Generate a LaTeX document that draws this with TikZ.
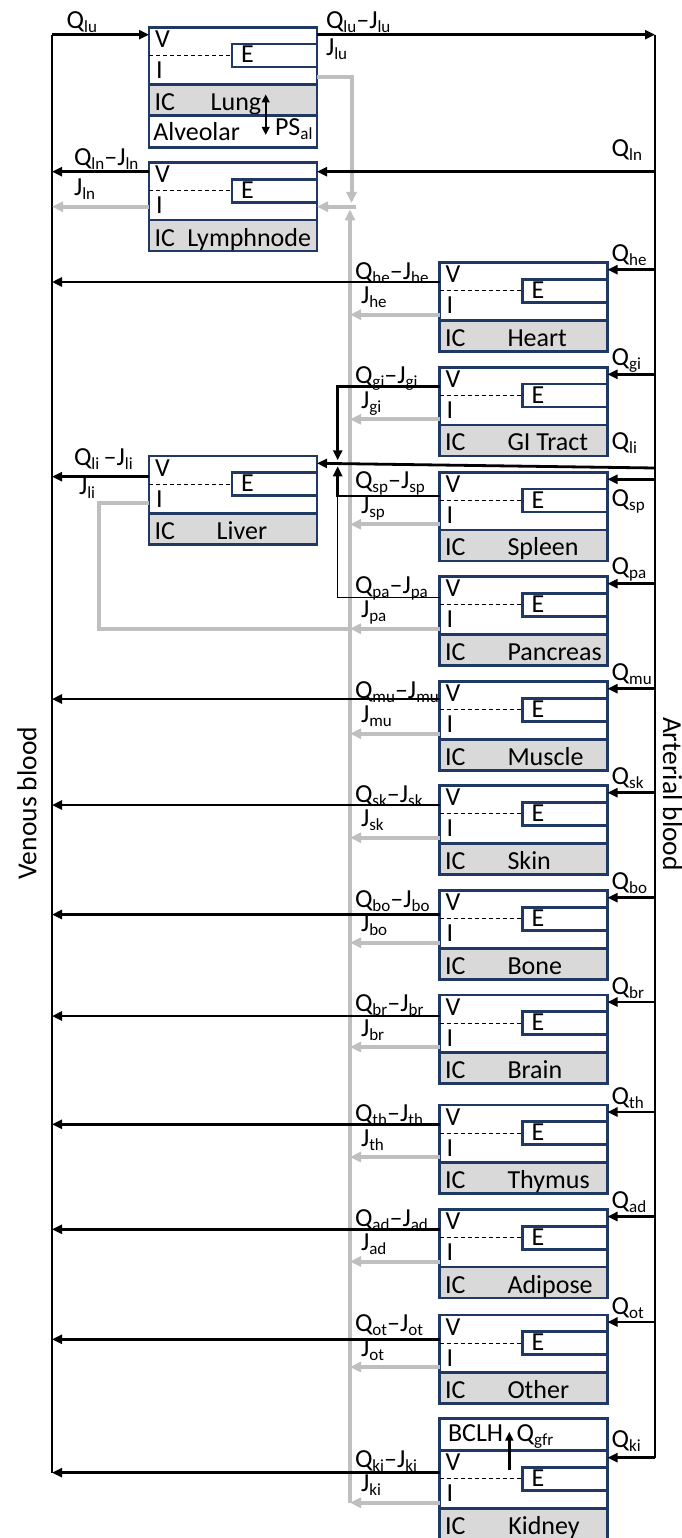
\documentclass[tikz,border=0pt]{standalone}
\usepackage{fontspec}
\setmainfont{Carlito}
\usetikzlibrary{arrows.meta,calc}
\definecolor{boxnavy}{RGB}{31,56,100}
\definecolor{icfill}{RGB}{217,217,217}
\definecolor{lymphgray}{RGB}{191,191,191}
% subscript used in the flow labels
\newcommand\sbs[1]{\raisebox{-4pt}{\fontsize{17}{17}\selectfont #1}}
% one compartment block: #1 id, #2 left x, #3 top y, #4 organ name,
% #5 name offset, #6 vascular outflow offset
\newcommand\organ[6]{%
  \node[mainrow] (#1) at (#2,#3) {};
  \node[icrow] (#1-ic) at (#1.south west) {};
  \node[ebox] (#1-e) at ($(#1.north east)+(0,16.7)$) {};
  \draw[sepline] (#1.west |- #1-e.west) -- (#1-e.west);
  \node[txt] (#1-vl) at ($(#1.north west)+(6,20)$) {V};
  \node[txt] (#1-il) at ($(#1.north west)+(7,51)$) {I};
  \node[txt] (#1-el) at ($(#1-e.north west)+(9,19)$) {E};
  \node[txt] (#1-icl) at ($(#1-ic.north west)+(5.5,26)$) {IC};
  \node[txt] (#1-nl) at ($(#1-ic.north west)+(#5,26)$) {#4};
  \coordinate (#1-out) at ($(#1.north west)+(0,#6)$);
  \coordinate (#1-jo) at ($(#1.north west)+(0,52)$);
  \coordinate (#1-in) at ($(#1.north east)+(0,7)$);
}
% flow labels of a peripheral organ: #1 id, #2 subscript, #3 shift of the Q label
\newcommand\qjlabels[3]{%
  \node[txt] (#1-qjl) at ($(qjx |- #1.north)+(0,16.5)$) {Q\sbs{#2}\textendash J\sbs{#2}};
  \node[txt] (#1-jl) at ($(jx |- #1.north)+(0,41)$) {J\sbs{#2}};
  \node[txt] (#1-ql) at ($(qx |- #1-in)+(0,#3)$) {Q\sbs{#2}};
}
% arterial inflow and lymph outflow of an organ
\newcommand\artin[1]{\draw[flow] (#1-in -| atop) -- (#1-in);}
\newcommand\lymout[1]{\draw[jflow] (#1-jo) -- (#1-jo -| gtop);}
\newcommand\venout[1]{\draw[flow] (#1-out) -- (#1-out -| vtop);}

\begin{document}
\begin{tikzpicture}[x=1pt,y=-1pt,
  every node/.style={inner sep=0pt,outer sep=0pt,font=\fontsize{26}{30}\selectfont},
  compbox/.style={draw=boxnavy,line width=2.6pt,minimum width=168pt,anchor=north west},
  mainrow/.style={compbox,minimum height=57.5pt,fill=white},
  icrow/.style={compbox,minimum height=31pt,fill=icfill},
  extrarow/.style={compbox,minimum height=31.5pt,fill=white},
  ebox/.style={draw=boxnavy,line width=2.6pt,minimum width=85pt,minimum height=23pt,anchor=north east,fill=white},
  sepline/.style={line width=1pt,dash pattern=on 4pt off 3pt},
  txt/.style={anchor=base west},
  vessel/.style={line width=1.8pt},
  flow/.style={line width=2.8pt,-{Triangle[length=10pt,width=9pt]}},
  thinflow/.style={line width=1.4pt},
  jline/.style={draw=lymphgray,line width=4pt},
  jflow/.style={jline,-{Triangle[length=11pt,width=10pt]}},
  smallarrow/.style={line width=2.4pt,-{Triangle[length=9pt,width=8pt]}},
  psarrow/.style={line width=2pt,{Triangle[length=8pt,width=7.5pt]}-{Triangle[length=8pt,width=7.5pt]}},
  sidelabel/.style={font=\fontsize{27.5}{30}\selectfont}]

\useasboundingbox (0,0) rectangle (682,1538);
\fill[white] (0,0) rectangle (682,1538);

% reference abscissae for lines and labels
\coordinate (vtop) at (52,34.7);
\coordinate (atop) at (655,34.7);
\coordinate (gtop) at (350,209.5);
\coordinate (qjx) at (355,0);
\coordinate (jx) at (361,0);
\coordinate (qx) at (611.7,0);
\coordinate (mx) at (337.7,0);

% compartments
\organ{lu}{149}{27.3}{Lung}{61.7}{7.4}
\node[extrarow] (lu-al) at (lu-ic.south west) {};
\organ{ln}{149}{162.7}{Lymphnode}{38.3}{9}
\organ{li}{149}{456}{Liver}{67.7}{20.7}
\organ{he}{439.5}{262.7}{Heart}{68}{19.3}
\organ{gi}{439.5}{367.3}{GI Tract}{68}{19.4}
\organ{sp}{439.5}{472.3}{Spleen}{68}{23.7}
\organ{pa}{439.5}{576.7}{Pancreas}{68}{21}
\organ{mu}{439.5}{681.7}{Muscle}{68}{17.3}
\organ{sk}{439.5}{785.7}{Skin}{68}{19.3}
\organ{bo}{439.5}{890.7}{Bone}{68}{23.8}
\organ{br}{439.5}{995}{Brain}{68}{21}
\organ{th}{439.5}{1105}{Thymus}{68}{19.3}
\organ{ad}{439.5}{1209.5}{Adipose}{68}{19.8}
\organ{ot}{439.5}{1315}{Other}{68}{24.3}
\organ{ki}{439.5}{1450.7}{Kidney}{68.8}{22}
\node[extrarow,minimum height=32pt] (ki-b) at ($(ki.north west)+(0,-32)$) {};

% venous and arterial blood
\coordinate (vbot) at (vtop |- ki-out);
\coordinate (abot) at (atop |- ki-in);
\draw[vessel] (vtop) -- (vbot);
\draw[vessel] (atop) -- (abot);

% lung
\coordinate (lu-vin) at ($(lu.north west)+(0,7.4)$);
\coordinate (lu-vout) at ($(lu.north east)+(0,7.4)$);
\coordinate (lu-jr) at ($(lu.north east)+(0,49.4)$);
\coordinate (lu-jt) at (351.5,203);
\draw[flow] (vtop) -- (lu-vin);
\draw[flow] (lu-vout) -- (lu-vout -| atop);
\draw[jflow] (lu-jr) -| (lu-jt);
\node[txt] (lu-ql) at (66.7,29) {Q\sbs{lu}};
\node[txt] (lu-qjl) at (326,29) {Q\sbs{lu}\textendash J\sbs{lu}};
\node[txt] (lu-jl) at (326,56) {J\sbs{lu}};
\node[txt] (lu-all) at ($(lu-al.north west)+(4.3,24.7)$) {Alveolar};
\node[txt] (lu-psl) at (275,136) {PS\sbs{al}};
\coordinate (ps-a) at (265.7,94.3);
\coordinate (ps-b) at (265.7,135);
\draw[psarrow] (ps-a) -- (ps-b);

% lymph node
\coordinate (ln-jo) at ($(ln.north west)+(0,44)$);
\coordinate (ln-jr) at ($(ln.north east)+(0,44)$);
\coordinate (ln-jin) at (356,206.7);
\coordinate (ln-ain) at ($(ln.north east)+(0,9)$);
\draw[flow] (ln-ain -| atop) -- (ln-ain);
\venout{ln}
\draw[jflow] (ln-jo) -- (ln-jo -| vtop);
\draw[jflow] (ln-jin) -- (ln-jr);
\node[txt] (ln-qjl) at (74,166) {Q\sbs{ln}\textendash J\sbs{ln}};
\node[txt] (ln-jl) at (74,196) {J\sbs{ln}};
\node[txt] (ln-ql) at (611.7,157) {Q\sbs{ln}};

% lymph collector
\coordinate (gbot) at (gtop |- ki-jo);
\draw[jflow] (gbot) -- (gtop);

% liver with its portal inflows
\coordinate (li-art) at (655,468);
\coordinate (li-ain) at ($(li.north east)+(0,7.3)$);
\coordinate (li-jl0) at ($(li.north west)+(0,46.7)$);
\draw[flow] (li-art) -- (li-ain);
\venout{li}
\draw[jline] (li-jl0) -- ++(-50,0) |- (pa-jo -| gtop);
\node[txt] (li-qjl) at (74,465) {Q\sbs{li}\,\textendash J\sbs{li}};
\node[txt] (li-jl) at (79,494) {J\sbs{li}};
\node[txt] (li-ql) at (611.7,449) {Q\sbs{li}};
\coordinate (gi-tip) at ($(mx |- li-ain)+(0,-3)$);
\coordinate (sp-tip) at ($(mx |- li-ain)+(0,3)$);
\draw[flow] (gi-out) -| (gi-tip);
\draw[flow] (sp-out) -| (sp-tip);
\draw[thinflow] (pa-out) -| (mx |- sp-out);

% peripheral organs
\foreach \o in {he,gi,sp,pa,mu,sk,bo,br,th,ad,ot,ki} {\artin{\o}\lymout{\o}}
\foreach \o in {he,mu,sk,bo,br,th,ad,ot,ki} {\venout{\o}}
\qjlabels{he}{he}{-8}
\qjlabels{gi}{gi}{-9}
\qjlabels{sp}{sp}{27.5}
\qjlabels{pa}{pa}{-9}
\qjlabels{mu}{mu}{-8}
\qjlabels{sk}{sk}{-8}
\qjlabels{bo}{bo}{-8}
\qjlabels{br}{br}{-8}
\qjlabels{th}{th}{-8}
\qjlabels{ad}{ad}{-8}
\qjlabels{ot}{ot}{-8}
\qjlabels{ki}{ki}{-10.7}

% kidney filtration
\node[txt] (ki-bl) at ($(ki-b.north west)+(8.5,23)$) {BCLH};
\node[txt] (ki-gl) at (516.7,1441.7) {Q\sbs{gfr}};
\coordinate (gfr-s) at (509.3,1470);
\coordinate (gfr-t) at (509.3,1431.7);
\draw[smallarrow] (gfr-s) -- (gfr-t);

% side captions
\node[sidelabel,rotate=90] (venous) at (27,803) {Venous blood};
\node[sidelabel,rotate=-90] (arterial) at (672.5,794) {Arterial blood};
\end{tikzpicture}
\end{document}
